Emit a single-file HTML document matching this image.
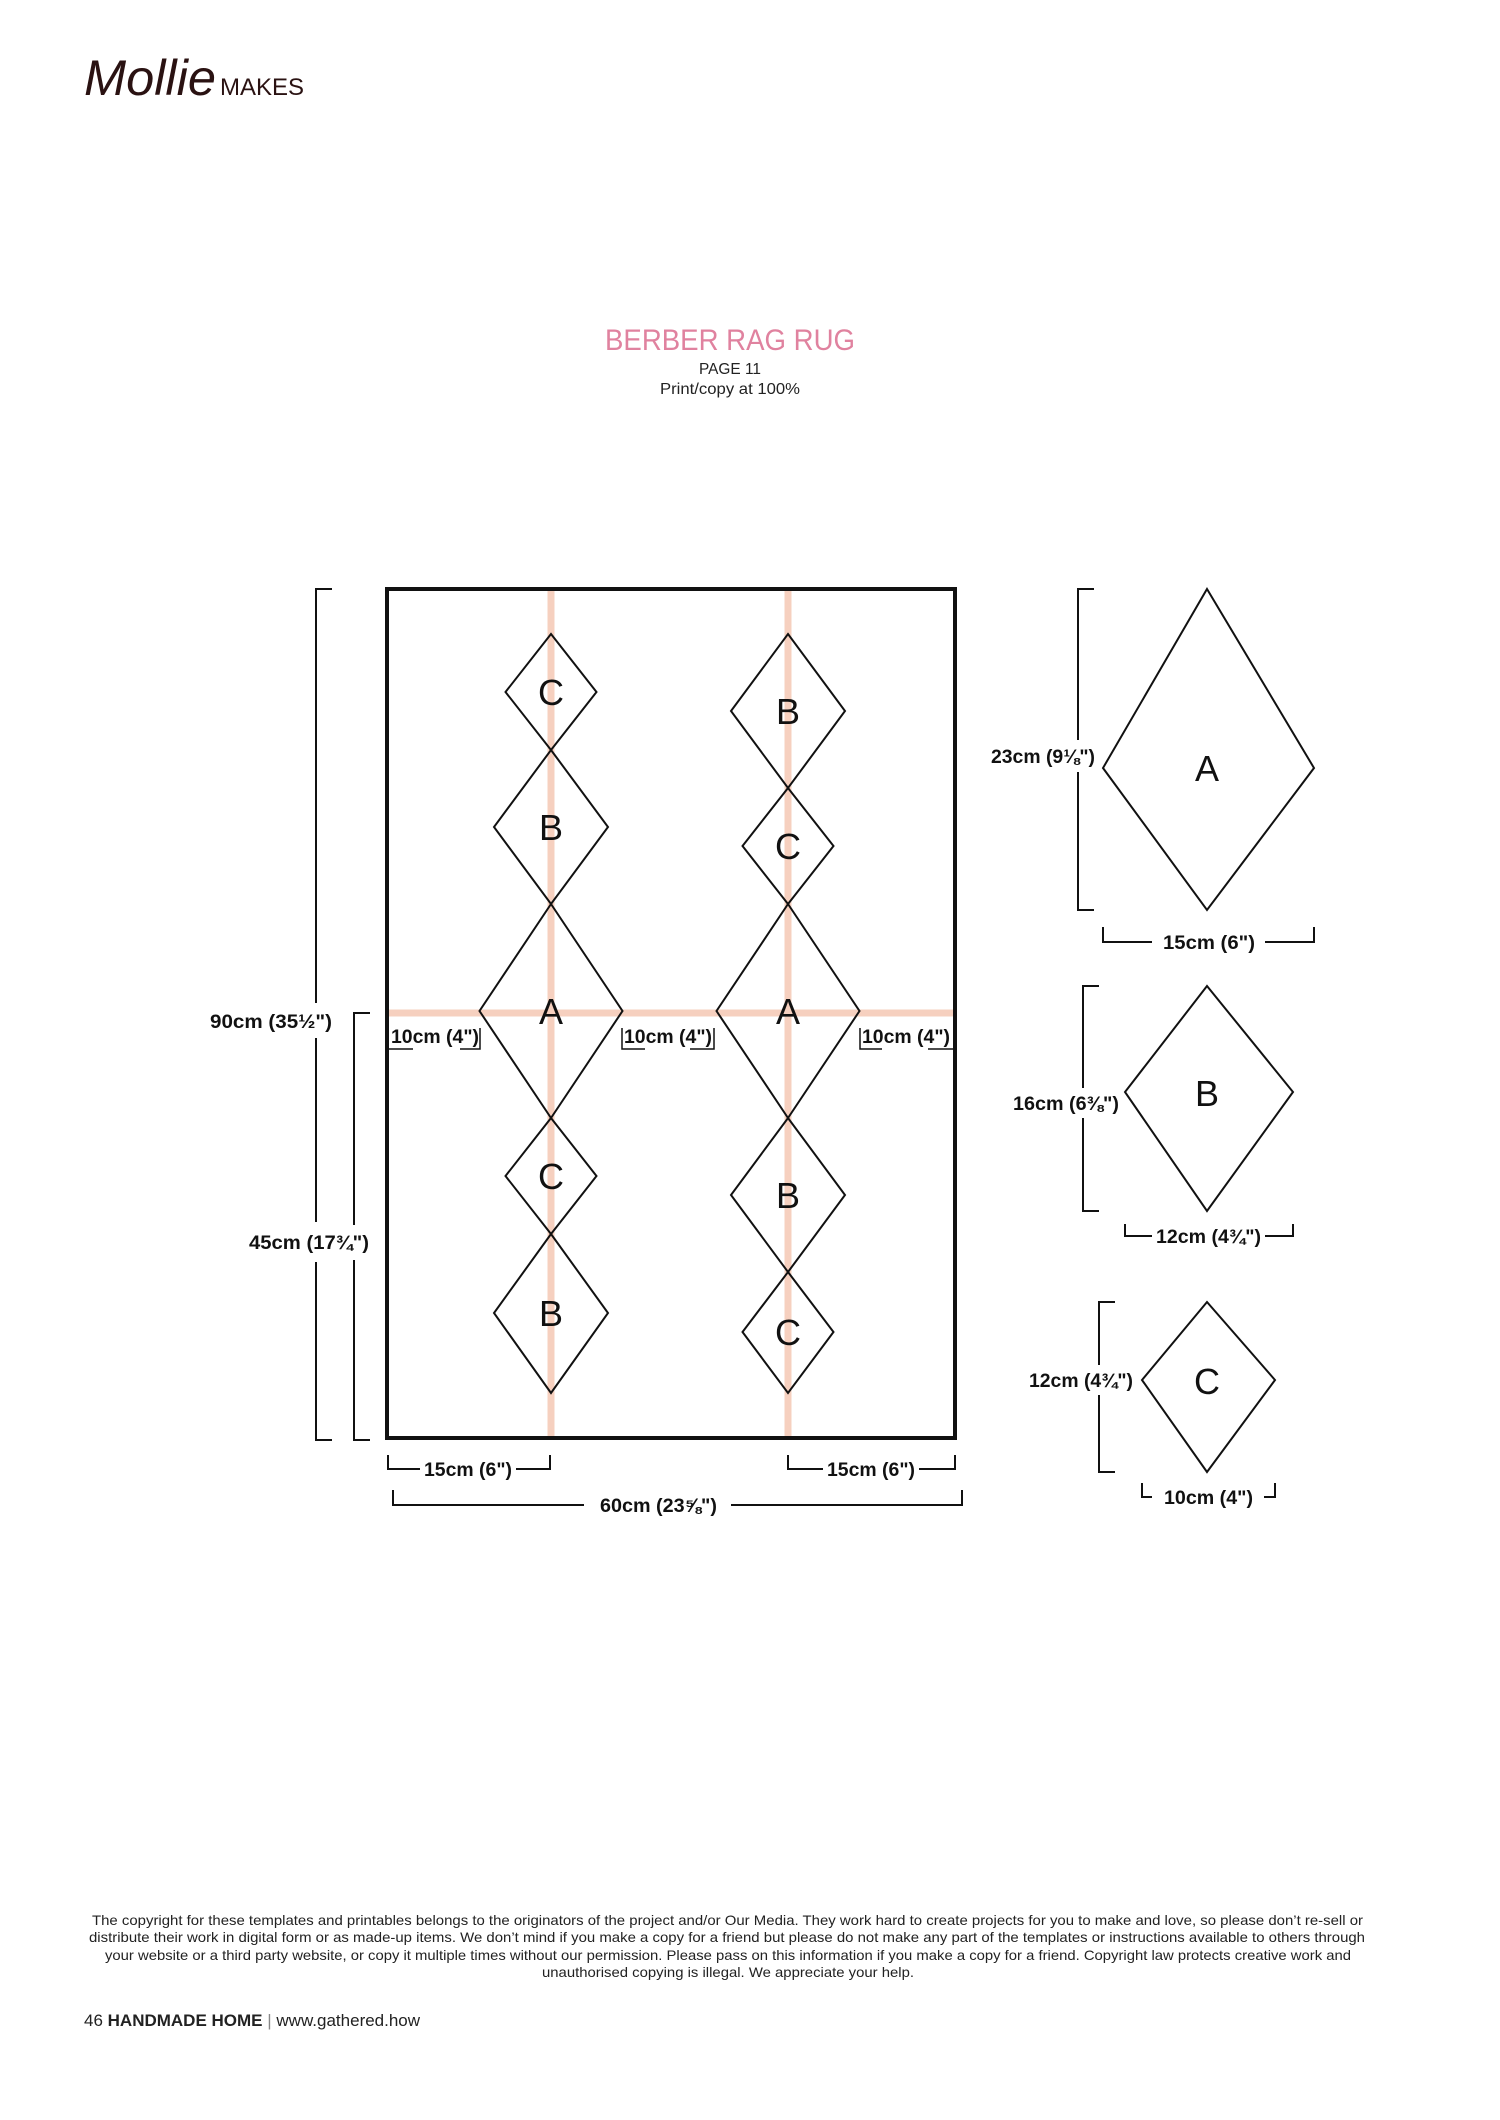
<!DOCTYPE html>
<html><head><meta charset="utf-8"><style>
html,body{margin:0;padding:0;background:#fff;}
svg{display:block;}
text{font-family:"Liberation Sans",sans-serif;}
.d{font-weight:bold;font-size:19px;fill:#111;}
.L{font-size:36px;fill:#111;text-anchor:middle;}
.f{font-size:14px;fill:#222;}
</style></head><body>
<svg width="1500" height="2120" viewBox="0 0 1500 2120" xmlns="http://www.w3.org/2000/svg">
<text x="84" y="95" font-family="Liberation Serif,serif" font-style="italic" font-size="50" fill="#2a1212" textLength="132" lengthAdjust="spacingAndGlyphs">Mollie</text>
<text x="220" y="95" font-size="24" fill="#2a1212" textLength="84" lengthAdjust="spacingAndGlyphs">MAKES</text>
<text x="730" y="350" font-size="30" fill="#e0829f" text-anchor="middle" textLength="250" lengthAdjust="spacingAndGlyphs">BERBER RAG RUG</text>
<text x="730" y="374" font-size="16" fill="#222" text-anchor="middle" textLength="62" lengthAdjust="spacingAndGlyphs">PAGE 11</text>
<text x="730" y="394" font-size="16" fill="#222" text-anchor="middle" textLength="140" lengthAdjust="spacingAndGlyphs">Print/copy at 100%</text>

<g stroke="#f6d0bf" stroke-width="7">
<line x1="551" y1="589" x2="551" y2="1438"/>
<line x1="788" y1="589" x2="788" y2="1438"/>
<line x1="387" y1="1013" x2="955" y2="1013"/>
</g>
<rect x="387" y="589" width="568" height="849" fill="none" stroke="#111" stroke-width="4"/>

<g fill="none" stroke="#111" stroke-width="2">
<polygon points="551,634 596.5,692 551,750 505.5,692"/>
<polygon points="551,750 608,827 551,904 494,827"/>
<polygon points="551,904 622.5,1011 551,1118 479.5,1011"/>
<polygon points="551,1118 596.5,1176 551,1234 505.5,1176"/>
<polygon points="551,1234 608,1313 551,1393 494,1313"/>
<polygon points="788,634 845,711 788,788 731,711"/>
<polygon points="788,788 833.5,846 788,904 742.5,846"/>
<polygon points="788,904 859.5,1011 788,1118 716.5,1011"/>
<polygon points="788,1118 845,1195 788,1272 731,1195"/>
<polygon points="788,1272 833.5,1332 788,1393 742.5,1332"/>
</g>
<g class="L">
<text x="551" y="705">C</text>
<text x="551" y="840">B</text>
<text x="551" y="1024">A</text>
<text x="551" y="1189">C</text>
<text x="551" y="1326">B</text>
<text x="788" y="724">B</text>
<text x="788" y="859">C</text>
<text x="788" y="1024">A</text>
<text x="788" y="1208">B</text>
<text x="788" y="1345">C</text>
</g>

<g stroke="#111" stroke-width="1.5" fill="none">
<polyline points="389,1049 413,1049"/><polyline points="460,1049 480,1049 480,1028"/>
<polyline points="622,1028 622,1049 645,1049"/><polyline points="690,1049 714,1049 714,1028"/>
<polyline points="860,1028 860,1049 882,1049"/><polyline points="928,1049 953,1049"/>
</g>
<text class="d" x="391" y="1043" textLength="88" lengthAdjust="spacingAndGlyphs">10cm (4")</text>
<text class="d" x="624" y="1043" textLength="88" lengthAdjust="spacingAndGlyphs">10cm (4")</text>
<text class="d" x="862" y="1043" textLength="88" lengthAdjust="spacingAndGlyphs">10cm (4")</text>

<g stroke="#111" stroke-width="2" fill="none">
<polyline points="332,589 316,589 316,1003"/>
<polyline points="316,1038 316,1222"/>
<polyline points="316,1262 316,1440 332,1440"/>
<polyline points="370,1013 354,1013 354,1225"/>
<polyline points="354,1260 354,1440 370,1440"/>
</g>
<text class="d" x="210" y="1028" textLength="122" lengthAdjust="spacingAndGlyphs">90cm (35½")</text>
<text class="d" x="249" y="1249" textLength="120" lengthAdjust="spacingAndGlyphs">45cm (17¾")</text>

<g stroke="#111" stroke-width="2" fill="none">
<polyline points="388,1455 388,1469 420,1469"/>
<polyline points="516,1469 550,1469 550,1455"/>
<polyline points="788,1455 788,1469 823,1469"/>
<polyline points="919,1469 955,1469 955,1455"/>
<polyline points="393,1490 393,1505 584,1505"/>
<polyline points="731,1505 962,1505 962,1490"/>
</g>
<text class="d" x="424" y="1476" textLength="88" lengthAdjust="spacingAndGlyphs">15cm (6")</text>
<text class="d" x="827" y="1476" textLength="88" lengthAdjust="spacingAndGlyphs">15cm (6")</text>
<text class="d" x="600" y="1512" textLength="117" lengthAdjust="spacingAndGlyphs">60cm (23⅝")</text>

<g fill="none" stroke="#111" stroke-width="2">
<polygon points="1207,589 1314,768 1207,910 1103,768"/>
<polygon points="1207,986 1293,1092 1207,1211 1125,1092"/>
<polygon points="1207,1302 1275,1380 1207,1472 1142,1380"/>
<polyline points="1094,589 1078,589 1078,740"/>
<polyline points="1078,772 1078,910 1094,910"/>
<polyline points="1103,927 1103,942 1152,942"/>
<polyline points="1265,942 1314,942 1314,927"/>
<polyline points="1099,986 1083,986 1083,1088"/>
<polyline points="1083,1118 1083,1211 1099,1211"/>
<polyline points="1125,1224 1125,1236 1152,1236"/>
<polyline points="1265,1236 1293,1236 1293,1224"/>
<polyline points="1115,1302 1099,1302 1099,1365"/>
<polyline points="1099,1395 1099,1472 1115,1472"/>
<polyline points="1142,1483 1142,1497 1152,1497"/>
<polyline points="1264,1497 1275,1497 1275,1483"/>
</g>
<g class="L"><text x="1207" y="781">A</text><text x="1207" y="1106">B</text><text x="1207" y="1394">C</text></g>
<text class="d" x="991" y="763" textLength="104" lengthAdjust="spacingAndGlyphs">23cm (9⅛")</text>
<text class="d" x="1163" y="949" textLength="92" lengthAdjust="spacingAndGlyphs">15cm (6")</text>
<text class="d" x="1013" y="1110" textLength="106" lengthAdjust="spacingAndGlyphs">16cm (6⅜")</text>
<text class="d" x="1156" y="1243" textLength="105" lengthAdjust="spacingAndGlyphs">12cm (4¾")</text>
<text class="d" x="1029" y="1387" textLength="104" lengthAdjust="spacingAndGlyphs">12cm (4¾")</text>
<text class="d" x="1164" y="1504" textLength="89" lengthAdjust="spacingAndGlyphs">10cm (4")</text>

<text class="f" x="92" y="1925" textLength="1271" lengthAdjust="spacingAndGlyphs">The copyright for these templates and printables belongs to the originators of the project and/or Our Media. They work hard to create projects for you to make and love, so please don’t re-sell or</text>
<text class="f" x="89" y="1942" textLength="1276" lengthAdjust="spacingAndGlyphs">distribute their work in digital form or as made-up items. We don’t mind if you make a copy for a friend but please do not make any part of the templates or instructions available to others through</text>
<text class="f" x="105" y="1960" textLength="1246" lengthAdjust="spacingAndGlyphs">your website or a third party website, or copy it multiple times without our permission. Please pass on this information if you make a copy for a friend. Copyright law protects creative work and</text>
<text class="f" x="542" y="1977" textLength="372" lengthAdjust="spacingAndGlyphs">unauthorised copying is illegal. We appreciate your help.</text>
<text x="84" y="2026" font-size="17" fill="#222"><tspan>46 </tspan><tspan font-weight="bold">HANDMADE HOME</tspan><tspan fill="#888"> | </tspan><tspan>www.gathered.how</tspan></text>
</svg>
</body></html>
